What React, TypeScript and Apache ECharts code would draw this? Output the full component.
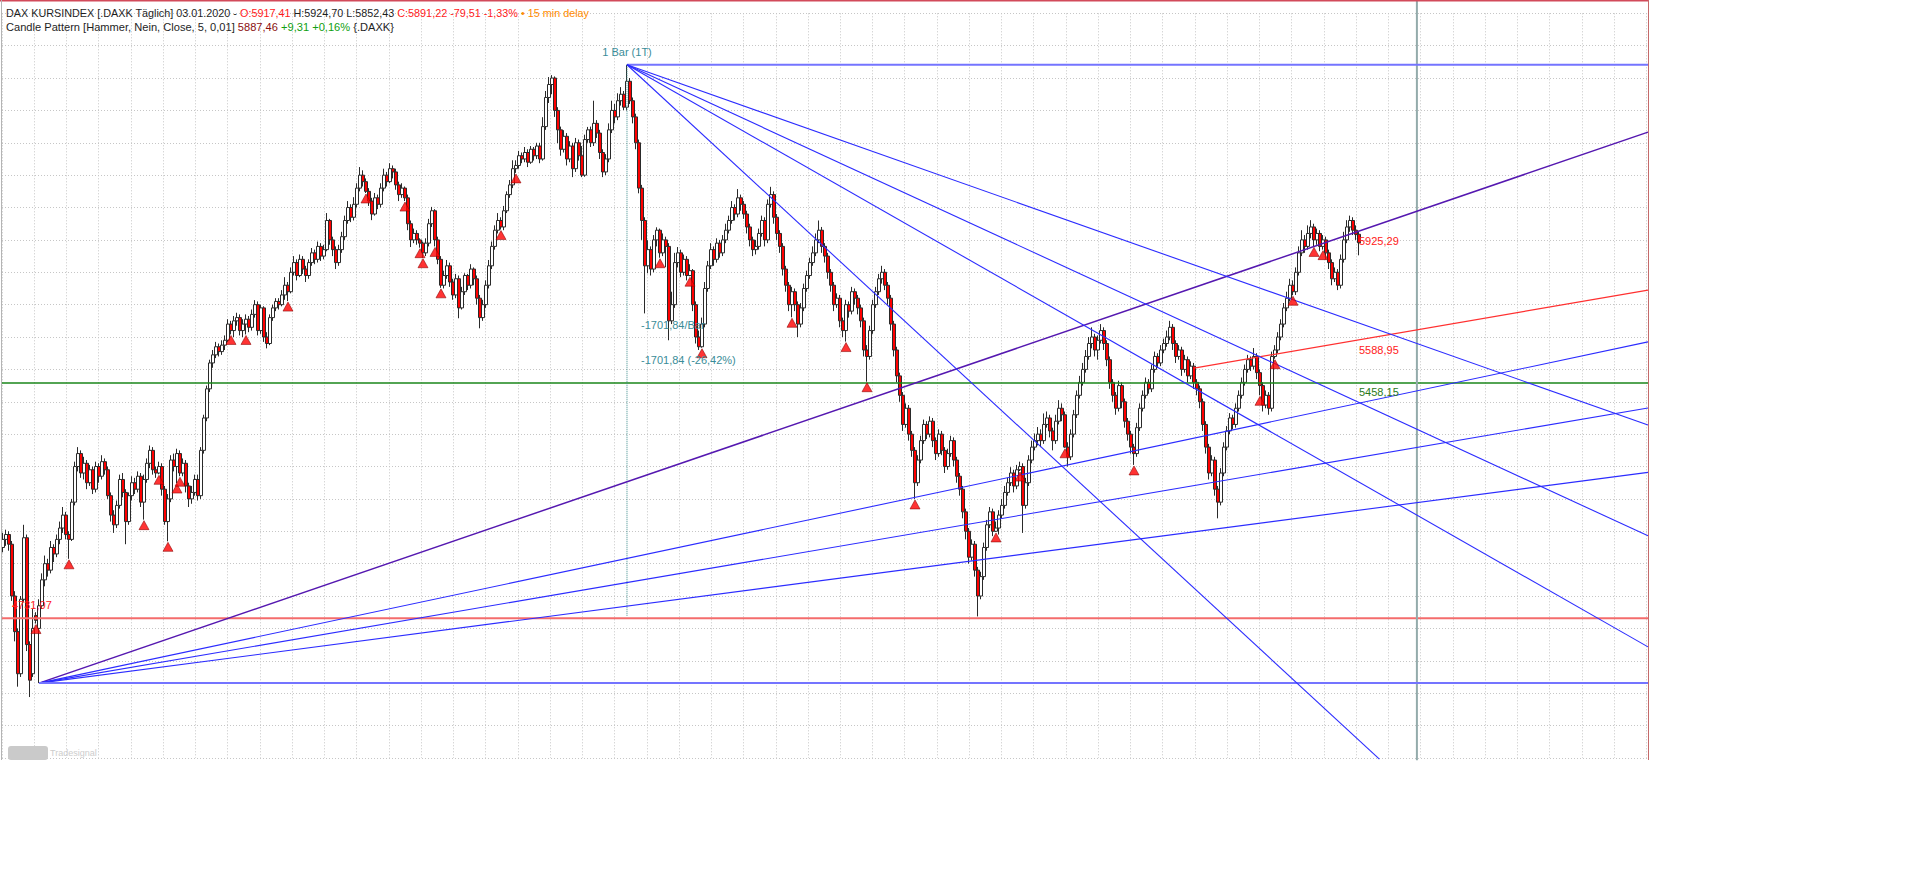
import React, { useEffect, useRef } from 'react';
import * as echarts from 'echarts';

// ---- OHLC (each bar ~2 trading days) ----
const opens = [
  4950,4975,4990,4960,4800,4690,4560,4790,4980,4650,
  4560,4740,4700,4770,4850,4900,4880,4950,4930,4975,
  5010,5050,4990,4975,5090,5200,5240,5180,5210,5150,
  5190,5130,5200,5170,5215,5190,5110,5050,5020,5080,
  5160,5120,5030,5110,5150,5130,5170,5090,5160,5210,
  5250,5190,5180,5200,5130,5030,5100,5220,5200,5240,
  5180,5210,5140,5100,5120,5160,5110,5250,5350,5440,
  5520,5545,5570,5555,5575,5590,5640,5620,5650,5660,
  5620,5640,5655,5630,5670,5700,5620,5690,5600,5580,
  5660,5690,5710,5700,5730,5760,5740,5800,5830,5790,
  5840,5810,5790,5830,5860,5840,5880,5850,5870,5960,
  5900,5870,5830,5870,5910,5960,6000,5970,6010,6060,
  6100,6080,6050,6020,5980,6030,6010,6060,6100,6080,
  6120,6110,6070,6040,6060,6030,5950,5900,5920,5900,
  5890,5860,5890,5950,5990,5900,5840,5760,5790,5820,
  5770,5730,5780,5690,5740,5790,5760,5810,5780,5720,
  5660,5700,5760,5820,5880,5930,5960,5940,5990,6040,
  6070,6120,6130,6160,6150,6170,6140,6180,6160,6190,
  6150,6250,6340,6380,6400,6300,6240,6180,6220,6150,
  6190,6120,6200,6160,6100,6210,6240,6200,6260,6230,
  6170,6110,6150,6240,6300,6280,6330,6350,6310,6390,
  6330,6280,6200,6060,5960,5820,5870,5810,5900,5930,
  5860,5900,5880,5650,5700,5830,5860,5800,5840,5790,
  5805,5700,5600,5570,5640,5750,5820,5870,5840,5890,
  5860,5900,5930,5960,6000,5980,6030,6010,5980,5940,
  5900,5870,5880,5920,5960,5900,6010,6040,5970,5920,
  5880,5810,5760,5700,5740,5700,5640,5690,5750,5790,
  5830,5860,5900,5930,5880,5850,5800,5760,5700,5720,
  5650,5620,5700,5680,5740,5720,5690,5650,5560,5540,
  5620,5700,5740,5780,5800,5760,5720,5640,5560,5480,
  5420,5330,5380,5300,5250,5150,5220,5280,5330,5300,
  5340,5280,5240,5300,5250,5200,5240,5280,5220,5170,
  5130,5060,5000,4920,4960,4880,4800,4860,4950,5020,
  5060,5000,5010,5050,5080,5120,5150,5180,5140,5190,
  5200,5080,5150,5220,5260,5280,5300,5280,5330,5350,
  5310,5280,5340,5380,5360,5260,5230,5300,5360,5420,
  5460,5500,5540,5580,5600,5560,5590,5620,5580,5530,
  5460,5420,5380,5450,5400,5340,5300,5260,5240,5320,
  5380,5420,5460,5440,5500,5540,5520,5560,5580,5600,
  5630,5580,5540,5560,5500,5530,5480,5510,5460,5440,
  5400,5330,5260,5180,5220,5130,5090,5180,5260,5310,
  5350,5330,5380,5420,5460,5500,5530,5510,5540,5490,
  5450,5390,5420,5380,5540,5560,5600,5640,5690,5720,
  5760,5740,5800,5860,5900,5880,5920,5940,5900,5920,
  5880,5900,5860,5830,5780,5800,5760,5840,5900,5940,
  5960,5930,5917.41
];
const closes = [
  4975,4990,4960,4800,4690,4560,4790,4980,4650,4540,
  4700,4725,4770,4850,4900,4880,4950,4930,4975,5010,
  5050,4990,4975,5090,5200,5240,5180,5210,5150,5190,
  5130,5200,5170,5215,5190,5110,5050,5020,5080,5160,
  5120,5030,5110,5150,5130,5170,5090,5160,5210,5250,
  5190,5180,5200,5130,5030,5100,5220,5200,5240,5180,
  5210,5140,5100,5120,5160,5110,5250,5350,5440,5520,
  5545,5570,5555,5575,5590,5640,5620,5650,5660,5620,
  5640,5655,5630,5670,5700,5620,5690,5600,5580,5660,
  5690,5710,5700,5730,5760,5740,5800,5830,5790,5840,
  5810,5790,5830,5860,5840,5880,5850,5870,5960,5900,
  5870,5830,5870,5910,5960,6000,5970,6010,6060,6100,
  6080,6050,6020,5980,6030,6010,6060,6100,6080,6120,
  6110,6070,6040,6060,6030,5950,5900,5920,5900,5890,
  5860,5890,5950,5990,5900,5840,5760,5790,5820,5770,
  5730,5780,5690,5740,5790,5760,5810,5780,5720,5660,
  5700,5760,5820,5880,5930,5960,5940,5990,6040,6070,
  6120,6130,6160,6150,6170,6140,6180,6160,6190,6150,
  6250,6340,6380,6400,6300,6240,6180,6220,6150,6190,
  6120,6200,6160,6100,6210,6240,6200,6260,6230,6170,
  6110,6150,6240,6300,6280,6330,6350,6310,6390,6330,
  6280,6200,6060,5960,5820,5870,5810,5900,5930,5860,
  5900,5880,5650,5700,5830,5860,5800,5840,5790,5805,
  5700,5600,5570,5640,5750,5820,5870,5840,5890,5860,
  5900,5930,5960,6000,5980,6030,6010,5980,5940,5900,
  5870,5880,5920,5960,5900,6010,6040,5970,5920,5880,
  5810,5760,5700,5740,5700,5640,5690,5750,5790,5830,
  5860,5900,5930,5880,5850,5800,5760,5700,5720,5650,
  5620,5700,5680,5740,5720,5690,5650,5560,5540,5620,
  5700,5740,5780,5800,5760,5720,5640,5560,5480,5420,
  5330,5380,5300,5250,5150,5220,5280,5330,5300,5340,
  5280,5240,5300,5250,5200,5240,5280,5220,5170,5130,
  5060,5000,4920,4960,4880,4800,4860,4950,5020,5060,
  5000,5010,5050,5080,5120,5150,5180,5140,5190,5200,
  5080,5150,5220,5260,5280,5300,5280,5330,5350,5310,
  5280,5340,5380,5360,5260,5230,5300,5360,5420,5460,
  5500,5540,5580,5600,5560,5590,5620,5580,5530,5460,
  5420,5380,5450,5400,5340,5300,5260,5240,5320,5380,
  5420,5460,5440,5500,5540,5520,5560,5580,5600,5630,
  5580,5540,5560,5500,5530,5480,5510,5460,5440,5400,
  5330,5260,5180,5220,5130,5090,5180,5260,5310,5350,
  5330,5380,5420,5460,5500,5530,5510,5540,5490,5450,
  5390,5420,5380,5540,5560,5600,5640,5690,5720,5760,
  5740,5800,5860,5900,5880,5920,5940,5900,5920,5880,
  5900,5860,5830,5780,5800,5760,5840,5900,5940,5960,
  5930,5917,5891.22
];
const lows = [
  4935,4955,4940,4785,4660,4520,4550,4780,4630,4488,
  4550,4715,4531,4760,4830,4860,4870,4905,4920,4960,
  4995,4975,4915,4970,5080,5185,5165,5160,5130,5140,
  5115,5120,5150,5160,5175,5100,5030,4995,5010,5070,
  5105,4960,5020,5095,5115,5120,5075,5036,5150,5195,
  5175,5165,5176,5110,5020,4969,5090,5185,5149,5170,
  5170,5120,5075,5085,5110,5095,5100,5240,5340,5430,
  5505,5535,5540,5545,5560,5585,5608,5600,5635,5605,
  5600,5608,5615,5620,5660,5605,5610,5585,5565,5575,
  5650,5680,5685,5695,5715,5711,5735,5790,5775,5785,
  5795,5770,5780,5820,5825,5830,5835,5840,5865,5885,
  5850,5810,5820,5860,5900,5950,5955,5960,6000,6050,
  6065,6045,6005,5961,5975,5995,6000,6050,6065,6075,
  6090,6055,6020,6030,6020,5930,5878,5890,5885,5876,
  5845,5850,5880,5940,5880,5825,5752,5750,5780,5755,
  5715,5720,5658,5685,5730,5745,5750,5760,5700,5627,
  5650,5690,5750,5810,5870,5920,5932,5930,5983,6030,
  6060,6107,6120,6137,6140,6125,6135,6145,6150,6137,
  6145,6240,6323,6350,6280,6199,6160,6170,6130,6140,
  6094,6110,6145,6094,6095,6200,6187,6190,6215,6150,
  6094,6100,6140,6230,6260,6270,6315,6301,6300,6320,
  6260,6180,6044,5900,5673,5797,5790,5800,5880,5845,
  5850,5816,5590,5640,5690,5815,5785,5790,5775,5788,
  5680,5580,5560,5567,5630,5740,5810,5820,5830,5845,
  5850,5890,5920,5950,5960,5970,5990,5965,5920,5880,
  5850,5855,5870,5910,5880,5890,6000,5950,5900,5860,
  5790,5740,5680,5661,5680,5600,5630,5680,5740,5780,
  5820,5850,5890,5860,5830,5780,5740,5680,5690,5630,
  5600,5586,5660,5670,5700,5670,5630,5540,5462,5530,
  5610,5690,5730,5765,5745,5700,5620,5540,5460,5400,
  5310,5320,5280,5230,5100,5140,5210,5270,5285,5290,
  5260,5220,5230,5235,5180,5190,5230,5200,5150,5110,
  5040,4975,4900,4910,4860,4737,4790,4850,4940,5010,
  4985,4998,4990,5040,5070,5110,5140,5120,5130,5186,
  4995,5070,5140,5210,5250,5265,5260,5270,5320,5290,
  5250,5270,5330,5340,5258,5200,5220,5290,5350,5410,
  5450,5490,5530,5565,5540,5530,5580,5560,5510,5440,
  5400,5360,5370,5380,5320,5280,5240,5205,5230,5310,
  5370,5410,5425,5430,5490,5505,5510,5550,5570,5590,
  5560,5520,5530,5480,5490,5460,5470,5440,5420,5380,
  5310,5240,5160,5170,5110,5040,5080,5170,5250,5300,
  5315,5320,5370,5410,5450,5490,5495,5500,5470,5420,
  5370,5380,5360,5370,5533,5550,5590,5630,5680,5710,
  5729,5730,5790,5850,5860,5870,5905,5880,5885,5865,
  5870,5840,5810,5760,5770,5745,5750,5830,5890,5925,
  5915,5900,5852.43
];
const highs = [
  4995,5005,5000,4970,4815,4700,4800,5020,4990,4660,
  4760,4750,4790,4870,4925,4915,4970,4960,4990,5030,
  5075,5060,5000,5100,5215,5260,5250,5230,5220,5205,
  5200,5215,5210,5235,5225,5200,5120,5065,5095,5175,
  5180,5130,5120,5170,5165,5185,5180,5175,5225,5265,
  5260,5200,5215,5210,5140,5115,5235,5240,5255,5250,
  5225,5220,5150,5140,5175,5175,5260,5360,5450,5530,
  5560,5585,5580,5590,5605,5655,5650,5665,5675,5670,
  5655,5670,5665,5685,5714,5710,5700,5695,5615,5670,
  5700,5720,5720,5745,5785,5770,5815,5850,5840,5855,
  5850,5820,5840,5875,5870,5895,5890,5885,5983,5965,
  5910,5880,5885,5925,5975,6020,6010,6032,6075,6125,
  6115,6090,6060,6030,6045,6040,6075,6120,6110,6137,
  6130,6120,6080,6075,6065,6040,5960,5935,5930,5905,
  5895,5905,5965,6002,5995,5910,5850,5805,5838,5830,
  5780,5795,5790,5755,5797,5795,5825,5815,5790,5730,
  5715,5775,5838,5895,5945,5983,5970,6005,6050,6085,
  6146,6146,6175,6170,6187,6180,6190,6187,6200,6200,
  6279,6360,6403,6409,6405,6310,6250,6239,6230,6205,
  6200,6215,6210,6190,6225,6249,6250,6330,6270,6240,
  6180,6165,6260,6330,6320,6353,6372,6360,6441,6400,
  6340,6290,6210,6070,5970,5899,5880,5915,5939,5935,
  5920,5910,5890,5740,5860,5878,5870,5855,5850,5825,
  5810,5710,5620,5660,5770,5835,5890,5880,5905,5900,
  5915,5950,5975,6020,6010,6057,6040,6020,5990,5950,
  5910,5900,5935,5975,5970,6025,6064,6050,5980,5930,
  5890,5820,5770,5755,5750,5710,5705,5765,5805,5845,
  5880,5920,5960,5940,5890,5860,5810,5770,5735,5730,
  5660,5715,5710,5755,5750,5730,5700,5660,5575,5635,
  5715,5755,5795,5820,5810,5770,5730,5650,5570,5490,
  5430,5395,5390,5310,5260,5235,5295,5345,5340,5355,
  5350,5290,5315,5310,5260,5255,5295,5290,5230,5180,
  5140,5070,5010,4975,4970,4890,4875,4965,5035,5075,
  5070,5030,5065,5100,5140,5165,5198,5190,5205,5215,
  5210,5165,5235,5280,5302,5322,5315,5364,5370,5360,
  5320,5360,5405,5395,5370,5275,5315,5375,5435,5480,
  5520,5560,5600,5630,5610,5605,5640,5630,5590,5540,
  5470,5430,5465,5460,5410,5350,5310,5270,5335,5395,
  5435,5475,5470,5515,5555,5550,5575,5595,5620,5650,
  5640,5590,5575,5570,5545,5540,5525,5520,5470,5450,
  5410,5340,5270,5235,5230,5140,5195,5275,5325,5365,
  5360,5395,5435,5475,5515,5545,5540,5566,5550,5500,
  5460,5435,5430,5555,5575,5615,5655,5705,5740,5780,
  5775,5815,5880,5930,5915,5945,5961,5950,5935,5930,
  5915,5910,5870,5840,5815,5810,5855,5925,5961,5975,
  5970,5945,5924.70
];

// bars flagged by the "Candle Pattern [Hammer]" indicator
const hammerBars = [11, 22, 47, 52, 55, 58, 59, 76, 81, 95, 121, 134, 139, 140, 144, 146, 166, 171,
  219, 229, 233, 263, 281, 288, 304, 331, 339, 354, 377, 419, 424, 430, 437, 440];

// drawing tools (bar index, price)
const rightEdgeBar = 548.333;
const lowFanOrigin = [12, 4531];
const lowFanTargets = [6233, 5585, 5381, 5182, 4531];
const peakFanOrigin = [208, 6441];
const peakFanEnds = [[rightEdgeBar, 6441], [rightEdgeBar, 5328], [rightEdgeBar, 4986], [rightEdgeBar, 4643], [458.8, 4296]];
const redTrend = [[397, 5504], [rightEdgeBar, 5745]];
const greenLevel = 5458.15;
const redLevel = 4731.07;
const dropAbs = 1701.84;
const dropPct = -26.42;
const timeLineBar = 471.3;
const lastBar = 452;
const purpleAtLast = 5925.29;
const redTrendAtLast = 5588.95;

const FONT = '"Liberation Sans", Arial, sans-serif';
const fmt = (v: number) => v.toFixed(2).replace('.', ',');

export default function App() {
  const ref = useRef<HTMLDivElement>(null);
  useEffect(() => {
    const chart = echarts.init(ref.current!, null, { renderer: 'svg' });
    const candleData = closes.map((c, i) => [i, opens[i], c, lows[i], highs[i]]);
    const markerData = hammerBars.map((i) => [i, lows[i]]);
    const seg = (a: number[], b: number[], color: string, width: number, extra: any = {}) => ({
      type: 'line', data: [a, b], symbol: 'none', silent: true, clip: false, z: 4,
      lineStyle: { color, width, ...extra }, animation: false,
    });
    const blue = '#2c2cff';
    const lightBlue = '#7474ff';
    const series: any[] = [
      {
        type: 'candlestick', data: candleData, barWidth: 3.4, z: 2, silent: true,
        itemStyle: { color: '#ffffff', color0: '#ff0000', borderColor: '#2a2a2a', borderColor0: '#2a2a2a', borderWidth: 1 },
      },
      seg([-0.333, greenLevel], [rightEdgeBar, greenLevel], '#1a861a', 1.5),
      seg([-0.333, redLevel], [rightEdgeBar, redLevel], '#f46c6c', 2),
      seg([timeLineBar, 6641], [timeLineBar, 4293], '#93abab', 2),
      seg([peakFanOrigin[0], peakFanOrigin[1]], [peakFanOrigin[0], peakFanOrigin[1] - dropAbs], '#3c8c8c', 1, { type: 'dotted' }),
      seg(redTrend[0], redTrend[1], '#ff3030', 1.2),
    ];
    lowFanTargets.forEach((p, k) => {
      const last = k === lowFanTargets.length - 1;
      const color = k === 0 ? '#5518b0' : last ? lightBlue : blue;
      series.push(seg(lowFanOrigin, [rightEdgeBar, p], color, k === 0 ? 1.5 : last ? 2 : 1.1));
    });
    peakFanEnds.forEach((e, k) => {
      series.push(seg(peakFanOrigin, e, k === 0 ? lightBlue : blue, k === 0 ? 2 : 1.1));
    });
    series.push({
      type: 'scatter', data: markerData, symbol: 'triangle', symbolSize: [10, 9], symbolOffset: [0, 5.5], z: 6, silent: true,
      itemStyle: { color: '#ff0000', borderColor: '#8a0000', borderWidth: 0.7 },
    });

    chart.setOption({
      animation: false,
      backgroundColor: '#ffffff',
      grid: { left: 2, top: 13.3, width: 1646, height: 744.6, containLabel: false },
      xAxis: [
        { type: 'value', min: -0.333, max: rightEdgeBar, show: false },
        {
          type: 'value', min: 0, max: 1646 / 32.24, interval: 1, position: 'top',
          axisLine: { show: false }, axisTick: { show: false }, axisLabel: { show: false },
          splitLine: { show: true, lineStyle: { color: '#c6c6c6', type: [1, 2], width: 1 } },
        },
      ],
      yAxis: {
        type: 'value', min: 4300, max: 6600, interval: 100,
        axisLine: { show: false }, axisTick: { show: false }, axisLabel: { show: false },
        splitLine: { show: true, lineStyle: { color: '#c6c6c6', type: [1, 2], width: 1 } },
      },
      series,
    });

    const px = (x: number, y: number) => chart.convertToPixel({ xAxisIndex: 0, yAxisIndex: 0 }, [x, y]) as number[];
    const txt = (x: number, y: number, text: string, fill: string, align = 'left', va = 'middle', size = 11) => ({
      type: 'text', x, y, silent: true, z: 20,
      style: { text, fill, font: `${size}px ${FONT}`, align, textAlign: align, verticalAlign: va, textVerticalAlign: va },
    });
    const pPeak = px(peakFanOrigin[0], peakFanOrigin[1]);
    const pPurple = px(lastBar, purpleAtLast);
    const pRed = px(lastBar, redTrendAtLast);
    const pGreen = px(lastBar, greenLevel);
    const pRedLvl = px(3, redLevel);
    const teal = '#3a8c98';
    const makeRich = (f: string) => ({
      d: { fill: '#1e1e1e', color: '#1e1e1e', font: f },
      r: { fill: '#ff1a1a', color: '#ff1a1a', font: f },
      o: { fill: '#ff8c00', color: '#ff8c00', font: f },
      m: { fill: '#8b1010', color: '#8b1010', font: f },
      g: { fill: '#10a010', color: '#10a010', font: f },
    });
    const hf1 = `10.8px ${FONT}`;
    const hf2 = `11.1px ${FONT}`;
    chart.setOption({
      graphic: [
        { type: 'line', silent: true, z: 15, shape: { x1: 0, y1: 0.75, x2: 1648, y2: 0.75 }, style: { stroke: '#d24a5a', lineWidth: 1.5 } },
        { type: 'line', silent: true, z: 15, shape: { x1: 1648.5, y1: 0, x2: 1648.5, y2: 760 }, style: { stroke: '#c46a6a', lineWidth: 1 } },
        { type: 'line', silent: true, z: 15, shape: { x1: 1.5, y1: 0, x2: 1.5, y2: 760 }, style: { stroke: '#b4b4b4', lineWidth: 1 } },
        {
          type: 'text', x: 6, y: 12.7, silent: true, z: 20,
          style: {
            text: '{d|DAX KURSINDEX [.DAXK Täglich] 03.01.2020 - }{r|O:5917,41}{d| H:5924,70 L:5852,43 }{r|C:5891,22 -79,51 -1,33%}{o| • 15 min delay}',
            rich: makeRich(hf1), fill: '#1e1e1e', font: hf1, verticalAlign: 'middle', textVerticalAlign: 'middle',
          },
        },
        {
          type: 'text', x: 6, y: 26.7, silent: true, z: 20,
          style: {
            text: '{d|Candle Pattern [Hammer, Nein, Close, 5, 0,01] }{m|5887,46}{g| +9,31 +0,16%} {.DAXK}',
            rich: makeRich(hf2), fill: '#1e1e1e', font: hf2, verticalAlign: 'middle', textVerticalAlign: 'middle',
          },
        },
        txt(pPeak[0], pPeak[1] - 7, '1 Bar (1T)', teal, 'center', 'bottom'),
        txt(pPeak[0] + 14, 325, `-${fmt(dropAbs)}/Bar`, teal),
        txt(pPeak[0] + 14, 359.5, `-${fmt(dropAbs)} (${fmt(dropPct)}%)`, teal),
        txt(pPurple[0], pPurple[1] + 4, fmt(purpleAtLast), '#ff2020', 'left', 'top'),
        txt(pRed[0], pRed[1] + 4, fmt(redTrendAtLast), '#ff2020', 'left', 'top'),
        txt(pGreen[0], pGreen[1] + 4, fmt(greenLevel), '#2a7a1a', 'left', 'top'),
        txt(pRedLvl[0], pRedLvl[1] - 8, fmt(redLevel), '#ff2020', 'left', 'bottom'),
        { type: 'rect', silent: true, z: 15, shape: { x: 8, y: 746, width: 40, height: 14, r: 3 }, style: { fill: '#cacaca' } },
        txt(50, 753, 'Tradesignal', '#cdcdcd', 'left', 'middle', 9),
      ],
    });
    return () => chart.dispose();
  }, []);
  return <div ref={ref} style={{ position: 'absolute', left: 0, top: 0, width: 1914, height: 869, background: '#fff' }} />;
}
